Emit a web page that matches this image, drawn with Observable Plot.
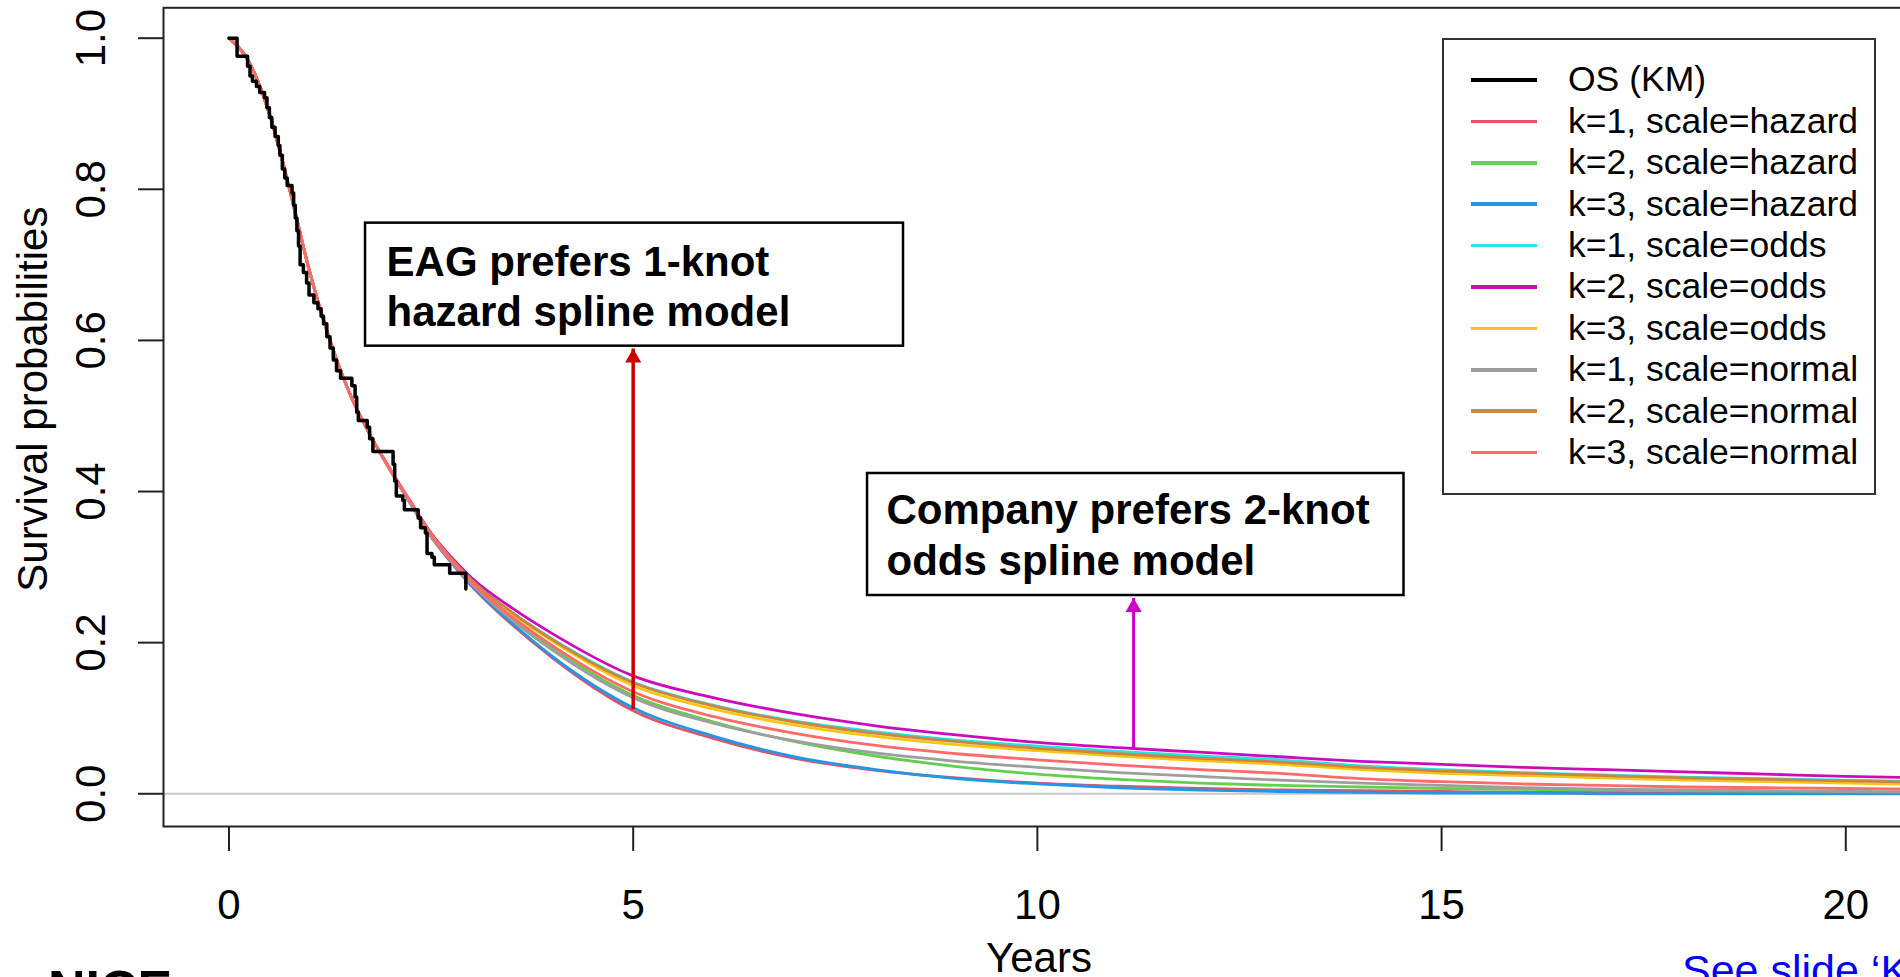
<!DOCTYPE html>
<html>
<head>
<meta charset="utf-8">
<script src="https://cdn.jsdelivr.net/npm/d3@7"></script>
<script src="https://cdn.jsdelivr.net/npm/@observablehq/plot@0.6"></script>
<style>
  html, body { margin: 0; padding: 0; background: #fff; overflow: hidden; }
  #page { position: relative; width: 1900px; height: 977px; overflow: hidden; background: #fff;
          font-family: "Liberation Sans", Arial, Helvetica, sans-serif; }
  #chart { position: absolute; left: 0; top: 0; width: 1920px; height: 977px; }
  #chart svg { max-width: none !important; width: 1920px; height: 977px; display: block; }
  #legend { position: absolute; left: 1442px; top: 38px; width: 430px; height: 453px;
            border: 2px solid #333; background: #fff; }
  #legend .swatch { position: absolute; left: 27px; width: 66px; height: 3.5px; }
  #legend .label { position: absolute; left: 124px; font-size: 35.5px; line-height: 41.4px;
                   height: 41.4px; white-space: nowrap; color: #000; }
  #logo { position: absolute; left: 48px; top: 963px; font-size: 52px; line-height: 52px;
          font-weight: bold; color: #000; }
  #link { position: absolute; left: 1682px; top: 949px; font-size: 43px; line-height: 43px;
          color: #0000ff; text-decoration: underline; white-space: nowrap; }
</style>
</head>
<body>
<div id="page">
  <div id="chart"></div>
  <div id="legend"></div>
  <div id="logo">NICE</div>
  <div id="link">See slide ‘Key issues’</div>
</div>
<script>
// Axis ticks
const xTicks = [0, 5, 10, 15, 20];
const yTicks = [0, 0.2, 0.4, 0.6, 0.8, 1.0];

// Kaplan–Meier overall survival (step function)
const kmTime = [0, 0.10, 0.23, 0.26, 0.29, 0.34, 0.38, 0.44, 0.47, 0.50, 0.53, 0.57, 0.61, 0.63, 0.66,
  0.69, 0.72, 0.78, 0.80, 0.82, 0.84, 0.86, 0.88, 0.92, 0.96, 0.99, 1.05, 1.10, 1.14, 1.17, 1.21,
  1.25, 1.29, 1.33, 1.38, 1.52, 1.56, 1.58, 1.60, 1.71, 1.74, 1.78, 2.03, 2.05, 2.07, 2.15, 2.17,
  2.34, 2.37, 2.43, 2.45, 2.51, 2.54, 2.73, 2.93];
const kmSurv = [1.0, 0.976, 0.963, 0.950, 0.943, 0.936, 0.928, 0.921, 0.908, 0.895, 0.882, 0.870, 0.858, 0.845, 0.827,
  0.815, 0.805, 0.795, 0.779, 0.762, 0.745, 0.725, 0.700, 0.690, 0.676, 0.660, 0.650, 0.642, 0.632, 0.622, 0.605,
  0.590, 0.574, 0.560, 0.550, 0.540, 0.525, 0.505, 0.494, 0.485, 0.470, 0.453, 0.436, 0.414, 0.394, 0.388, 0.376,
  0.365, 0.352, 0.345, 0.318, 0.313, 0.303, 0.292, 0.271];

// Fitted spline survival curves, sampled on a common time grid (years)
const fitTime = [0, 0.25, 0.5, 0.75, 1, 1.25, 1.5, 1.75, 2, 2.25, 2.5, 2.75, 3, 3.5, 4, 5, 6, 7, 8, 9, 10,
  11, 12, 13, 14, 15, 16, 17, 18, 19, 20, 21];
const hazardK1 = [1, 0.968, 0.9, 0.8, 0.69, 0.6, 0.528, 0.474, 0.427, 0.383, 0.340, 0.306, 0.275, 0.224, 0.180, 0.110,
  0.073, 0.047, 0.031, 0.021, 0.014, 0.010, 0.007, 0.005, 0.004, 0.003, 0.002, 0.002, 0.001, 0.001, 0.001, 0.001];
const hazardK2 = [1, 0.968, 0.9, 0.8, 0.69, 0.6, 0.528, 0.474, 0.428, 0.384, 0.342, 0.309, 0.279, 0.232, 0.193, 0.130,
  0.095, 0.069, 0.050, 0.036, 0.026, 0.019, 0.014, 0.011, 0.009, 0.007, 0.006, 0.005, 0.004, 0.003, 0.003, 0.002];
const hazardK3 = [1, 0.968, 0.9, 0.8, 0.69, 0.6, 0.528, 0.474, 0.427, 0.383, 0.341, 0.307, 0.276, 0.226, 0.182, 0.114,
  0.076, 0.049, 0.032, 0.020, 0.013, 0.008, 0.005, 0.003, 0.002, 0.001, 0.001, 0.000, 0.000, 0.000, 0.000, 0.000];
const oddsK1 = [1, 0.968, 0.9, 0.8, 0.69, 0.6, 0.528, 0.474, 0.428, 0.385, 0.344, 0.311, 0.283, 0.240, 0.205, 0.148,
  0.117, 0.096, 0.082, 0.071, 0.063, 0.056, 0.050, 0.045, 0.037, 0.032, 0.028, 0.025, 0.022, 0.020, 0.018, 0.016];
const oddsK2 = [1, 0.968, 0.9, 0.8, 0.69, 0.6, 0.528, 0.474, 0.429, 0.386, 0.345, 0.313, 0.286, 0.246, 0.212, 0.156,
  0.127, 0.106, 0.090, 0.078, 0.068, 0.061, 0.055, 0.049, 0.043, 0.039, 0.035, 0.032, 0.029, 0.026, 0.023, 0.021];
const oddsK3 = [1, 0.968, 0.9, 0.8, 0.69, 0.6, 0.528, 0.474, 0.428, 0.385, 0.343, 0.310, 0.282, 0.238, 0.202, 0.143,
  0.112, 0.091, 0.076, 0.065, 0.057, 0.050, 0.044, 0.039, 0.032, 0.027, 0.024, 0.021, 0.018, 0.016, 0.014, 0.012];
const normalK1 = [1, 0.968, 0.9, 0.8, 0.69, 0.6, 0.528, 0.474, 0.427, 0.384, 0.341, 0.308, 0.278, 0.230, 0.190, 0.127,
  0.093, 0.070, 0.054, 0.043, 0.035, 0.028, 0.023, 0.018, 0.014, 0.011, 0.008, 0.006, 0.005, 0.004, 0.003, 0.002];
const normalK2 = [1, 0.968, 0.9, 0.8, 0.69, 0.6, 0.528, 0.474, 0.428, 0.385, 0.344, 0.311, 0.283, 0.240, 0.204, 0.147,
  0.116, 0.095, 0.080, 0.069, 0.060, 0.053, 0.047, 0.042, 0.035, 0.030, 0.027, 0.024, 0.021, 0.019, 0.017, 0.015];
const normalK3 = [1, 0.968, 0.9, 0.8, 0.69, 0.6, 0.528, 0.474, 0.428, 0.385, 0.343, 0.309, 0.280, 0.234, 0.196, 0.135,
  0.102, 0.080, 0.064, 0.053, 0.045, 0.038, 0.032, 0.027, 0.020, 0.016, 0.013, 0.011, 0.009, 0.008, 0.007, 0.006];

const seriesNames = ["k=1, scale=hazard", "k=2, scale=hazard", "k=3, scale=hazard",
  "k=1, scale=odds", "k=2, scale=odds", "k=3, scale=odds",
  "k=1, scale=normal", "k=2, scale=normal", "k=3, scale=normal"];
const seriesValues = [hazardK1, hazardK2, hazardK3, oddsK1, oddsK2, oddsK3, normalK1, normalK2, normalK3];
const seriesColors = ["#DF536B", "#61D04F", "#2297E6", "#28E2E5", "#CD0BBC", "#F5C710",
  "#9E9E9E", "#CD853F", "#FF6A6A"];
const kmName = "OS (KM)";

// Annotation callouts (data coordinates)
const callouts = [
  {text: "EAG prefers 1-knot\nhazard spline model", x1: 1.689, x2: 8.344, y1: 0.5924, y2: 0.7552,
   tx: 1.949, ty: 0.6197, lh: 50 / 42,
   ax: 5, ayFrom: 0.112, ayTo: 0.5893, color: "#CC0000", aw: 3.5},
  {text: "Company prefers 2-knot\nodds spline model", x1: 7.899, x2: 14.535, y1: 0.2624, y2: 0.4239,
   tx: 8.134, ty: 0.2902, lh: 51 / 42,
   ax: 11.19, ayFrom: 0.060, ayTo: 0.2591, color: "#CC00CC", aw: 3}
];

const fitRows = seriesNames.flatMap((name, i) =>
  fitTime.map((t, j) => ({series: name, t, s: seriesValues[i][j]})));
const kmRows = kmTime.map((t, i) => ({t, s: kmSurv[i]}));

const font = '"Liberation Sans", Arial, Helvetica, sans-serif';

const chart = Plot.plot({
  width: 1920,
  height: 977,
  marginLeft: 163,
  marginRight: 6,
  marginTop: 7.3,
  marginBottom: 151,
  x: {domain: [-0.81, 20.85]},
  y: {domain: [-0.0433, 1.0402]},
  color: {domain: seriesNames, range: seriesColors},
  style: {fontFamily: font, fontSize: "42px", color: "#000", background: "transparent",
          overflow: "visible", maxWidth: "none"},
  marks: [
    Plot.ruleY([0], {stroke: "#c8c8c8", strokeWidth: 2}),
    Plot.line(fitRows, {x: "t", y: "s", z: "series", stroke: "series", strokeWidth: 2.8, curve: "monotone-x"}),
    Plot.line(kmRows, {x: "t", y: "s", curve: "step-after", stroke: "#000", strokeWidth: 3.5}),
    Plot.frame({stroke: "#222", strokeWidth: 2}),
    Plot.axisX({ticks: xTicks, tickSize: 25, tickFormat: () => "", label: null, stroke: "#222", strokeWidth: 2}),
    Plot.axisY({ticks: yTicks, tickSize: 25, tickFormat: () => "", label: null, stroke: "#222", strokeWidth: 2}),
    Plot.text(xTicks, {x: d => d, text: d => String(d), frameAnchor: "bottom", dy: 92,
      lineAnchor: "bottom", textAnchor: "middle", fontSize: 42, fill: "#000"}),
    Plot.text(yTicks, {y: d => d, text: d => d.toFixed(1), frameAnchor: "left", dx: -59, rotate: -90,
      lineAnchor: "bottom", textAnchor: "middle", fontSize: 42, fill: "#000"}),
    Plot.text(["Years"], {text: d => d, frameAnchor: "bottom", dy: 145, lineAnchor: "bottom",
      textAnchor: "middle", fontSize: 42, fill: "#000"}),
    Plot.text(["Survival probabilities"], {text: d => d, frameAnchor: "left", dx: -117, dy: -18, rotate: -90,
      lineAnchor: "bottom", textAnchor: "middle", fontSize: 42, fill: "#000"}),
    // callout boxes
    Plot.rect(callouts, {x1: "x1", x2: "x2", y1: "y1", y2: "y2", fill: "white", stroke: "#000", strokeWidth: 2.5}),
    ...callouts.map(c => Plot.text([c], {x: "tx", y: "ty", text: "text", textAnchor: "start", lineAnchor: "bottom",
      lineHeight: c.lh, fontSize: 42, fontWeight: "bold", fill: "#000"})),
    // arrows pointing from the curves to the callouts
    ...callouts.map(c => Plot.link([c], {x1: "ax", x2: "ax", y1: "ayFrom", y2: "ayTo", stroke: c.color, strokeWidth: c.aw})),
    ...callouts.map(c => Plot.dot([c], {x: "ax", y: "ayTo", symbol: "triangle", r: 6, dy: 9.3, fill: c.color, stroke: "none"}))
  ]
});
document.getElementById("chart").appendChild(chart);

// Legend inside the plot area
const legend = document.getElementById("legend");
const legendNames = [kmName, ...seriesNames];
const legendColors = ["#000", ...seriesColors];
legendNames.forEach((name, i) => {
  const cy = 40 + i * 41.4;
  const sw = document.createElement("div");
  sw.className = "swatch";
  sw.style.top = (cy - (i === 0 ? 2 : 1.75)) + "px";
  sw.style.height = (i === 0 ? 4 : 3.5) + "px";
  sw.style.background = legendColors[i];
  legend.appendChild(sw);
  const lb = document.createElement("div");
  lb.className = "label";
  lb.style.top = (cy - 20.7) + "px";
  lb.textContent = name;
  legend.appendChild(lb);
});
</script>
</body>
</html>
